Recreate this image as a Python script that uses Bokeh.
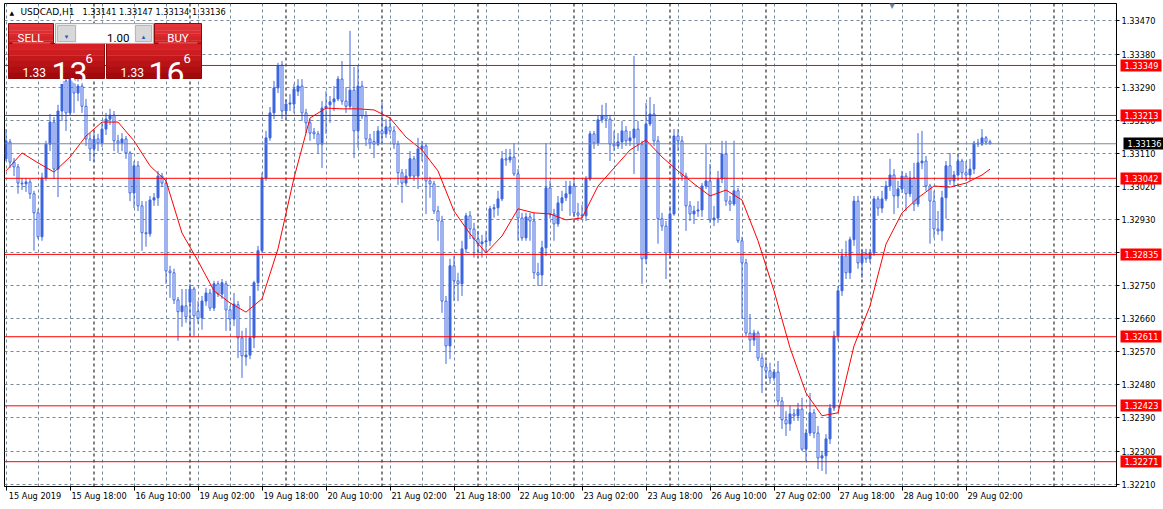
from bokeh.plotting import figure
from bokeh.models import (Range1d, FixedTicker, PrintfTickFormatter, Span, Label,
                          BoxAnnotation, LinearAxis)
from bokeh.embed import file_html
from bokeh.resources import INLINE

# ---------------- data (USDCAD, H1) ----------------
symbol = "USDCAD,H1"
bid, ask = 1.33136, 1.33166

open_ = [
    1.33095, 1.33141, 1.33086, 1.33073, 1.33029, 1.33027, 1.33032, 1.33000, 1.32948, 1.32883,
    1.33043, 1.33135, 1.33195, 1.33067, 1.33225, 1.33307, 1.33220, 1.33312, 1.33274, 1.33293,
    1.33238, 1.33149, 1.33122, 1.33149, 1.33138, 1.33176, 1.33203, 1.33214, 1.33144, 1.33138,
    1.33149, 1.33111, 1.33002, 1.33076, 1.32967, 1.32894, 1.32891, 1.32983, 1.32989, 1.33048,
    1.33029, 1.32790, 1.32785, 1.32711, 1.32679, 1.32695, 1.32705, 1.32741, 1.32680, 1.32662,
    1.32708, 1.32730, 1.32689, 1.32755, 1.32727, 1.32755, 1.32684, 1.32659, 1.32698, 1.32608,
    1.32556, 1.32561, 1.32608, 1.32758, 1.32845, 1.33043, 1.33152, 1.33220, 1.33288, 1.33350,
    1.33225, 1.33244, 1.33244, 1.33279, 1.33293, 1.33220, 1.33193, 1.33168, 1.33163, 1.33135,
    1.33233, 1.33242, 1.33250, 1.33258, 1.33312, 1.33252, 1.33238, 1.33282, 1.33171, 1.33293,
    1.33212, 1.33149, 1.33142, 1.33135, 1.33171, 1.33163, 1.33182, 1.33171, 1.33135, 1.33057,
    1.33029, 1.33048, 1.33095, 1.33048, 1.33122, 1.33130, 1.33035, 1.33027, 1.32953, 1.32926,
    1.32708, 1.32586, 1.32804, 1.32763, 1.32755, 1.32850, 1.32940, 1.32904, 1.32877, 1.32864,
    1.32869, 1.32872, 1.32959, 1.32962, 1.32986, 1.33095, 1.33092, 1.33100, 1.33054, 1.32934,
    1.32880, 1.32937, 1.32926, 1.32785, 1.32779, 1.32853, 1.33016, 1.32945, 1.32918, 1.32975,
    1.32989, 1.33000, 1.33021, 1.32948, 1.32942, 1.32940, 1.33040, 1.33163, 1.33138, 1.33201,
    1.33212, 1.33203, 1.33135, 1.33130, 1.33141, 1.33171, 1.33144, 1.33152, 1.33176, 1.33135,
    1.32823, 1.33190, 1.33217, 1.33144, 1.32932, 1.32912, 1.32839, 1.32945, 1.33157, 1.33144,
    1.33048, 1.32967, 1.32945, 1.32953, 1.32956, 1.33021, 1.33035, 1.32929, 1.32934, 1.33040,
    1.33108, 1.32980, 1.32972, 1.33008, 1.32872, 1.32812, 1.32621, 1.32602, 1.32621, 1.32553,
    1.32529, 1.32518, 1.32499, 1.32515, 1.32436, 1.32385, 1.32374, 1.32401, 1.32396, 1.32414,
    1.32305, 1.32349, 1.32404, 1.32349, 1.32281, 1.32287, 1.32333, 1.32417, 1.32613, 1.32736,
    1.32831, 1.32785, 1.32875, 1.32980, 1.32812, 1.32837, 1.32823, 1.32839, 1.32986, 1.32961,
    1.32986, 1.33021, 1.33051, 1.32994, 1.33013, 1.33048, 1.33000, 1.33043, 1.32972, 1.33084,
    1.33089, 1.33021, 1.32980, 1.32904, 1.32899, 1.32989, 1.33076, 1.33035, 1.33051, 1.33089,
    1.33057, 1.33051, 1.33067, 1.33138, 1.33135, 1.33152, 1.33141,
]
high = [
    1.33176, 1.33149, 1.33097, 1.33081, 1.33043, 1.33043, 1.33040, 1.33008, 1.32959, 1.33057,
    1.33144, 1.33217, 1.33209, 1.33242, 1.33348, 1.33328, 1.33361, 1.33356, 1.33320, 1.33328,
    1.33258, 1.33165, 1.33171, 1.33163, 1.33193, 1.33220, 1.33231, 1.33225, 1.33160, 1.33165,
    1.33157, 1.33116, 1.33089, 1.33089, 1.32980, 1.32980, 1.32994, 1.33002, 1.33062, 1.33057,
    1.33040, 1.32804, 1.32796, 1.32719, 1.32741, 1.32741, 1.32755, 1.32747, 1.32708, 1.32722,
    1.32744, 1.32741, 1.32763, 1.32763, 1.32768, 1.32763, 1.32695, 1.32730, 1.32708, 1.32627,
    1.32635, 1.32722, 1.32763, 1.32858, 1.33057, 1.33171, 1.33236, 1.33307, 1.33356, 1.33361,
    1.33258, 1.33271, 1.33299, 1.33312, 1.33312, 1.33231, 1.33203, 1.33179, 1.33171, 1.33252,
    1.33279, 1.33266, 1.33293, 1.33320, 1.33361, 1.33290, 1.33443, 1.33345, 1.33348, 1.33307,
    1.33225, 1.33163, 1.33171, 1.33184, 1.33247, 1.33203, 1.33209, 1.33184, 1.33144, 1.33067,
    1.33067, 1.33116, 1.33103, 1.33152, 1.33144, 1.33138, 1.33046, 1.33035, 1.32967, 1.32940,
    1.32722, 1.32823, 1.32831, 1.32785, 1.32872, 1.32948, 1.32953, 1.32921, 1.32899, 1.32888,
    1.32899, 1.32967, 1.32972, 1.33008, 1.33116, 1.33122, 1.33122, 1.33138, 1.33067, 1.32948,
    1.32948, 1.32948, 1.32948, 1.32812, 1.32872, 1.33138, 1.33035, 1.32959, 1.32994, 1.33008,
    1.33035, 1.33035, 1.33035, 1.32975, 1.32970, 1.33048, 1.33171, 1.33171, 1.33212, 1.33242,
    1.33247, 1.33212, 1.33171, 1.33165, 1.33198, 1.33184, 1.33171, 1.33375, 1.33198, 1.33144,
    1.33247, 1.33263, 1.33244, 1.33157, 1.32948, 1.32926, 1.32967, 1.33176, 1.33176, 1.33157,
    1.33057, 1.32980, 1.32967, 1.32980, 1.33029, 1.33135, 1.33081, 1.32967, 1.33062, 1.33144,
    1.33144, 1.32994, 1.33144, 1.33016, 1.32883, 1.32823, 1.32673, 1.32630, 1.32627, 1.32567,
    1.32545, 1.32540, 1.32523, 1.32545, 1.32447, 1.32409, 1.32423, 1.32414, 1.32431, 1.32445,
    1.32360, 1.32458, 1.32414, 1.32368, 1.32300, 1.32346, 1.32428, 1.32627, 1.32749, 1.32850,
    1.32872, 1.32883, 1.32994, 1.32994, 1.32850, 1.32850, 1.32850, 1.32994, 1.32994, 1.33008,
    1.33035, 1.33095, 1.33067, 1.33035, 1.33062, 1.33057, 1.33062, 1.33084, 1.33165, 1.33171,
    1.33103, 1.33027, 1.33008, 1.32953, 1.33008, 1.33089, 1.33111, 1.33062, 1.33103, 1.33095,
    1.33089, 1.33095, 1.33144, 1.33149, 1.33176, 1.33157, 1.33147,
]
low = [
    1.33089, 1.33070, 1.33048, 1.33000, 1.33010, 1.33005, 1.32986, 1.32845, 1.32877, 1.32872,
    1.33035, 1.33116, 1.33040, 1.32991, 1.33198, 1.33171, 1.33212, 1.33220, 1.33252, 1.33220,
    1.33130, 1.33089, 1.33089, 1.33116, 1.33127, 1.33160, 1.33187, 1.33116, 1.33111, 1.33116,
    1.33095, 1.32980, 1.32961, 1.32953, 1.32845, 1.32856, 1.32883, 1.32967, 1.32967, 1.33019,
    1.32755, 1.32717, 1.32700, 1.32600, 1.32638, 1.32649, 1.32613, 1.32613, 1.32646, 1.32630,
    1.32695, 1.32681, 1.32681, 1.32719, 1.32714, 1.32627, 1.32627, 1.32640, 1.32553, 1.32499,
    1.32532, 1.32550, 1.32580, 1.32736, 1.32839, 1.33035, 1.33144, 1.33203, 1.33274, 1.33203,
    1.33206, 1.33225, 1.33220, 1.33266, 1.33198, 1.33165, 1.33144, 1.33149, 1.33111, 1.33070,
    1.33163, 1.33193, 1.33225, 1.33252, 1.33242, 1.33220, 1.33230, 1.33097, 1.33125, 1.33203,
    1.33130, 1.33122, 1.33097, 1.33130, 1.33138, 1.33152, 1.33160, 1.33122, 1.33024, 1.32975,
    1.33020, 1.33040, 1.33035, 1.33013, 1.33089, 1.32945, 1.32989, 1.32945, 1.32872, 1.32676,
    1.32537, 1.32550, 1.32708, 1.32708, 1.32722, 1.32839, 1.32877, 1.32826, 1.32837, 1.32826,
    1.32839, 1.32858, 1.32935, 1.32940, 1.32980, 1.33076, 1.33084, 1.33048, 1.32872, 1.32872,
    1.32872, 1.32872, 1.32768, 1.32749, 1.32749, 1.32831, 1.32932, 1.32872, 1.32910, 1.32953,
    1.32980, 1.32940, 1.32937, 1.32926, 1.32932, 1.32926, 1.33035, 1.33122, 1.33130, 1.33193,
    1.33179, 1.33089, 1.33116, 1.33122, 1.33122, 1.33130, 1.33130, 1.33054, 1.33116, 1.32755,
    1.32809, 1.33184, 1.33130, 1.32864, 1.32899, 1.32768, 1.32823, 1.32940, 1.33116, 1.33035,
    1.32899, 1.32926, 1.32918, 1.32937, 1.32937, 1.33013, 1.32921, 1.32912, 1.32921, 1.33029,
    1.32967, 1.32953, 1.32967, 1.32866, 1.32659, 1.32613, 1.32572, 1.32586, 1.32545, 1.32458,
    1.32496, 1.32483, 1.32491, 1.32423, 1.32360, 1.32341, 1.32355, 1.32382, 1.32382, 1.32300,
    1.32273, 1.32341, 1.32335, 1.32251, 1.32246, 1.32237, 1.32319, 1.32409, 1.32600, 1.32722,
    1.32768, 1.32768, 1.32858, 1.32796, 1.32771, 1.32812, 1.32812, 1.32831, 1.32940, 1.32948,
    1.32980, 1.33008, 1.32945, 1.32961, 1.33002, 1.32953, 1.32991, 1.32953, 1.32964, 1.33067,
    1.33008, 1.32864, 1.32880, 1.32888, 1.32872, 1.32932, 1.33024, 1.33019, 1.33046, 1.33040,
    1.33035, 1.33035, 1.33054, 1.33127, 1.33130, 1.33133, 1.33134,
]
close = [
    1.33144, 1.33086, 1.33073, 1.33029, 1.33027, 1.33032, 1.33000, 1.32948, 1.32883, 1.33043,
    1.33135, 1.33195, 1.33067, 1.33225, 1.33307, 1.33220, 1.33312, 1.33274, 1.33293, 1.33238,
    1.33149, 1.33122, 1.33149, 1.33138, 1.33176, 1.33203, 1.33214, 1.33144, 1.33138, 1.33149,
    1.33111, 1.33002, 1.33076, 1.32967, 1.32894, 1.32891, 1.32983, 1.32989, 1.33048, 1.33029,
    1.32790, 1.32785, 1.32711, 1.32679, 1.32695, 1.32665, 1.32741, 1.32668, 1.32662, 1.32708,
    1.32730, 1.32689, 1.32755, 1.32727, 1.32758, 1.32684, 1.32659, 1.32700, 1.32608, 1.32559,
    1.32561, 1.32608, 1.32758, 1.32845, 1.33043, 1.33152, 1.33220, 1.33288, 1.33348, 1.33225,
    1.33244, 1.33247, 1.33285, 1.33293, 1.33220, 1.33193, 1.33165, 1.33163, 1.33135, 1.33233,
    1.33238, 1.33250, 1.33258, 1.33312, 1.33252, 1.33238, 1.33282, 1.33171, 1.33293, 1.33212,
    1.33149, 1.33138, 1.33135, 1.33171, 1.33163, 1.33182, 1.33171, 1.33135, 1.33057, 1.33029,
    1.33048, 1.33095, 1.33048, 1.33122, 1.33130, 1.33035, 1.33027, 1.32953, 1.32926, 1.32708,
    1.32586, 1.32804, 1.32763, 1.32755, 1.32850, 1.32940, 1.32904, 1.32877, 1.32864, 1.32869,
    1.32872, 1.32959, 1.32962, 1.32986, 1.33095, 1.33092, 1.33100, 1.33054, 1.32934, 1.32880,
    1.32937, 1.32926, 1.32785, 1.32779, 1.32853, 1.33016, 1.32945, 1.32918, 1.32975, 1.32989,
    1.33000, 1.33021, 1.32948, 1.32942, 1.32940, 1.33040, 1.33163, 1.33138, 1.33201, 1.33212,
    1.33203, 1.33135, 1.33130, 1.33141, 1.33171, 1.33144, 1.33152, 1.33176, 1.33135, 1.32823,
    1.33190, 1.33217, 1.33144, 1.32932, 1.32912, 1.32839, 1.32945, 1.33157, 1.33144, 1.33048,
    1.32967, 1.32945, 1.32953, 1.32956, 1.33021, 1.33035, 1.32929, 1.32934, 1.33040, 1.33108,
    1.32980, 1.32972, 1.33008, 1.32872, 1.32812, 1.32621, 1.32602, 1.32621, 1.32553, 1.32529,
    1.32518, 1.32499, 1.32515, 1.32436, 1.32385, 1.32374, 1.32401, 1.32396, 1.32414, 1.32305,
    1.32349, 1.32404, 1.32349, 1.32281, 1.32287, 1.32333, 1.32417, 1.32613, 1.32736, 1.32831,
    1.32785, 1.32875, 1.32980, 1.32812, 1.32837, 1.32823, 1.32839, 1.32986, 1.32961, 1.32986,
    1.33021, 1.33051, 1.32994, 1.33013, 1.33048, 1.33000, 1.33043, 1.32972, 1.33084, 1.33089,
    1.33021, 1.32980, 1.32904, 1.32899, 1.32989, 1.33076, 1.33035, 1.33051, 1.33089, 1.33057,
    1.33051, 1.33067, 1.33138, 1.33135, 1.33152, 1.33141, 1.33136,
]

# moving average (red), sampled every 4 bars
ma_bars = list(range(0, 245, 4)) + [246]
ma_vals = [
    1.33062, 1.33111, 1.33084, 1.33059, 1.33100, 1.33157, 1.33195, 1.33195, 1.33144, 1.33076,
    1.33035, 1.32893, 1.32817, 1.32736, 1.32703, 1.32678, 1.32714, 1.32850, 1.33043, 1.33206,
    1.33233, 1.33231, 1.33231, 1.33228, 1.33206, 1.33154, 1.33119, 1.33062, 1.32953, 1.32891,
    1.32839, 1.32885, 1.32959, 1.32948, 1.32945, 1.32929, 1.32934, 1.33021, 1.33070, 1.33119,
    1.33146, 1.33100, 1.33062, 1.33027, 1.32994, 1.33010, 1.32983, 1.32872, 1.32736, 1.32581,
    1.32458, 1.32396, 1.32404, 1.32586, 1.32695, 1.32863, 1.32948, 1.32989, 1.33021, 1.33018,
    1.33029, 1.33051, 1.33067,
]

time_labels = ["15 Aug 2019", "15 Aug 18:00", "16 Aug 10:00", "19 Aug 02:00", "19 Aug 18:00",
               "20 Aug 10:00", "21 Aug 02:00", "21 Aug 18:00", "22 Aug 10:00", "23 Aug 02:00",
               "23 Aug 18:00", "26 Aug 10:00", "27 Aug 02:00", "27 Aug 18:00", "28 Aug 10:00",
               "29 Aug 02:00"]
label_bars = [0, 16, 32, 48, 64, 80, 96, 112, 128, 144, 160, 176, 192, 208, 224, 240]
day_starts = [22, 46, 70, 94, 118, 142, 166, 190, 214, 238, 262]
price_ticks = [1.32210, 1.32300, 1.32390, 1.32480, 1.32570, 1.32660, 1.32750, 1.32840,
               1.32930, 1.33020, 1.33110, 1.33200, 1.33290, 1.33380, 1.33470]
levels = [1.33349, 1.33213, 1.33042, 1.32835, 1.32611, 1.32423, 1.32271]

# ---------------- layout / style ----------------
FONT = "DejaVu Sans"
PFONT = "Roboto"
FS = "8.2px"
BLUE = "#3d66e0"
GRID = "#778899"
FRAME_L, FRAME_T = 4, 3
FRAME_W, FRAME_H = 1112, 483
X0 = -0.375
X1 = X0 + FRAME_W / 4.0
LABEL_SHIFT = 7.25   # bars from a time tick to the centre of its left-aligned label


def fx(px):
    return px - FRAME_L


def fy(py):
    return FRAME_T + FRAME_H - py


p = figure(frame_width=FRAME_W, frame_height=FRAME_H,
           x_range=Range1d(X0, X1), y_range=Range1d(1.322035, 1.335176),
           output_backend="svg", toolbar_location=None, y_axis_location="right",
           min_border_left=FRAME_L, min_border_top=FRAME_T, min_border_right=47,
           min_border_bottom=23, background_fill_color="white", border_fill_color="white")
p.outline_line_color = "black"
p.outline_line_width = 1

# right price scale
yax = p.yaxis[0]
yax.ticker = FixedTicker(ticks=price_ticks)
yax.formatter = PrintfTickFormatter(format="%.5f")
yax.axis_line_color = "black"
yax.major_tick_line_color = "black"
yax.major_tick_in = 0
yax.major_tick_out = 3
yax.minor_tick_line_color = None
yax.major_label_standoff = 2
yax.major_label_text_font = FONT
yax.major_label_text_font_size = FS
yax.major_label_text_color = "black"


def tag_axis(ticks, color):
    ax = LinearAxis(ticker=FixedTicker(ticks=ticks), formatter=PrintfTickFormatter(format="%.5f"),
                    axis_line_color=None, major_tick_line_color=color, major_tick_line_width=12,
                    major_tick_in=38, major_tick_out=3, minor_tick_line_color=None,
                    major_label_standoff=-37, major_label_text_color="white",
                    major_label_text_font=FONT, major_label_text_font_size=FS)
    p.add_layout(ax, "right")


tag_axis(levels, "#ff0000")
tag_axis([bid], "black")

# bottom time scale: tick marks at the bar, labels start at the tick
xax = p.xaxis[0]
major = [b + LABEL_SHIFT for b in label_bars]
xax.ticker = FixedTicker(ticks=major, minor_ticks=label_bars)
xax.major_label_overrides = {m: t for m, t in zip(major, time_labels)}
xax.major_tick_line_color = None
xax.major_tick_in = 0
xax.major_tick_out = 0
xax.minor_tick_line_color = "black"
xax.minor_tick_in = 0
xax.minor_tick_out = 4
xax.major_label_standoff = 0
xax.major_label_text_font = FONT
xax.major_label_text_font_size = FS
xax.major_label_text_color = "black"
xax.axis_line_color = "black"

p.xgrid[0].ticker = FixedTicker(ticks=list(range(0, 278, 8)))
p.ygrid[0].ticker = FixedTicker(ticks=price_ticks)
for g in (p.xgrid[0], p.ygrid[0]):
    g.grid_line_color = GRID
    g.grid_line_dash = "3 3"
    g.grid_line_width = 1

for d in day_starts:
    p.add_layout(Span(location=d, dimension="height", line_color="black",
                      line_dash="3 3", line_width=1, level="underlay"))

# ---------------- candles ----------------
idx = list(range(len(close)))
p.segment(x0=idx, y0=low, x1=idx, y1=high, line_color=BLUE, line_width=1)
up = [i for i in idx if close[i] > open_[i]]
dn = [i for i in idx if close[i] <= open_[i]]
p.vbar(x=up, bottom=[open_[i] for i in up], top=[close[i] for i in up], width=0.5,
       fill_color=BLUE, line_color=BLUE, line_width=1)
p.vbar(x=dn, bottom=[close[i] for i in dn], top=[open_[i] for i in dn], width=0.5,
       fill_color="white", line_color=BLUE, line_width=1)

p.line(ma_bars, ma_vals, line_color="red", line_width=1)

for lv in levels:
    p.add_layout(Span(location=lv, dimension="width", line_color="red", line_width=1))
p.add_layout(Span(location=bid, dimension="width", line_color="#7d8a96", line_width=1))

# ---------------- header ----------------
p.add_layout(Label(x=fx(9), y=fy(15.5), x_units="screen", y_units="screen", text="\u25b2",
                   text_font=FONT, text_font_size="6px", text_color="black", level="overlay"))
p.add_layout(Label(x=fx(20), y=fy(16.5), x_units="screen", y_units="screen", text=symbol,
                   text_font=FONT, text_font_size="9px", text_color="black", level="overlay"))
p.add_layout(Label(x=fx(82), y=fy(16.5), x_units="screen", y_units="screen",
                   text=f"{open_[-1]:.5f} {high[-1]:.5f} {low[-1]:.5f} {close[-1]:.5f}",
                   text_font=FONT, text_font_size=FS, text_color="black", level="overlay"))
p.add_layout(Label(x=fx(891.5), y=fy(9), x_units="screen", y_units="screen", text="\u25bc",
                   text_align="center", text_font=FONT, text_font_size="8px",
                   text_color="#6f7f8f", level="overlay"))


# ---------------- one-click trading panel ----------------
def box(x0, y0, x1, y1, fill, line=None):
    p.add_layout(BoxAnnotation(left=fx(x0), right=fx(x1), top=fy(y0), bottom=fy(y1),
                               left_units="screen", right_units="screen",
                               top_units="screen", bottom_units="screen",
                               fill_color=fill, fill_alpha=1.0,
                               line_color=line, line_alpha=1.0 if line else 0.0,
                               line_width=1, level="overlay"))


def mix(c0, c1, t):
    a = [int(c0[k:k + 2], 16) for k in (1, 3, 5)]
    b = [int(c1[k:k + 2], 16) for k in (1, 3, 5)]
    return "#%02x%02x%02x" % tuple(round(a[k] + (b[k] - a[k]) * t) for k in range(3))


def red_box(x0, y0, x1, y1, c0, c1, n=6):
    h = (y1 - y0) / n
    for k in range(n):
        box(x0, y0 + k * h, x1, y0 + (k + 1) * h + 0.3, mix(c0, c1, k / (n - 1)))
    box(x0, y0, x1, y1, None, line="#8e0b0b")


red_box(8, 23, 53, 43, "#e6373a", "#d01f22")
red_box(154, 23, 201, 43, "#e6373a", "#d01f22")
red_box(8, 43, 104, 78, "#d62226", "#a40a0d")
red_box(106, 43, 201, 78, "#d62226", "#a40a0d")
box(12, 42, 50, 43, "#ee7a7a")
box(158, 42, 197, 43, "#ee7a7a")
box(55, 23, 153, 43, "#ececec", line="#a8a8a8")
box(57, 25, 75, 41, "#d8d8d8", line="#b8b8b8")
box(135, 25, 151, 41, "#d8d8d8", line="#b8b8b8")
box(76, 24, 134, 42, "#ffffff")


def ptext(x, y, t, size, color="white", align="left"):
    p.add_layout(Label(x=fx(x), y=fy(y), x_units="screen", y_units="screen", text=t,
                       text_align=align, text_baseline="alphabetic", text_font=PFONT,
                       text_font_size=size, text_color=color, level="overlay"))


ptext(30, 37, "SELL", "11.5px", align="center")
ptext(177.5, 37, "BUY", "11.5px", align="center")
ptext(129, 37, "1.00", "11.5px", color="black", align="right")
ptext(66, 35.5, "\u25bc", "6px", color="#3355cc", align="center")
ptext(143, 35.5, "\u25b2", "6px", color="#3355cc", align="center")

bid_s, ask_s = f"{bid:.5f}", f"{ask:.5f}"
ptext(22, 72, bid_s[:4], "12px")
ptext(51, 72, bid_s[4:6], "32px")
ptext(85, 58, bid_s[6:], "13px")
ptext(120, 72, ask_s[:4], "12px")
ptext(148, 72, ask_s[4:6], "32px")
ptext(183, 58, ask_s[6:], "13px")

open("out.html", "w").write(file_html(p, INLINE))
